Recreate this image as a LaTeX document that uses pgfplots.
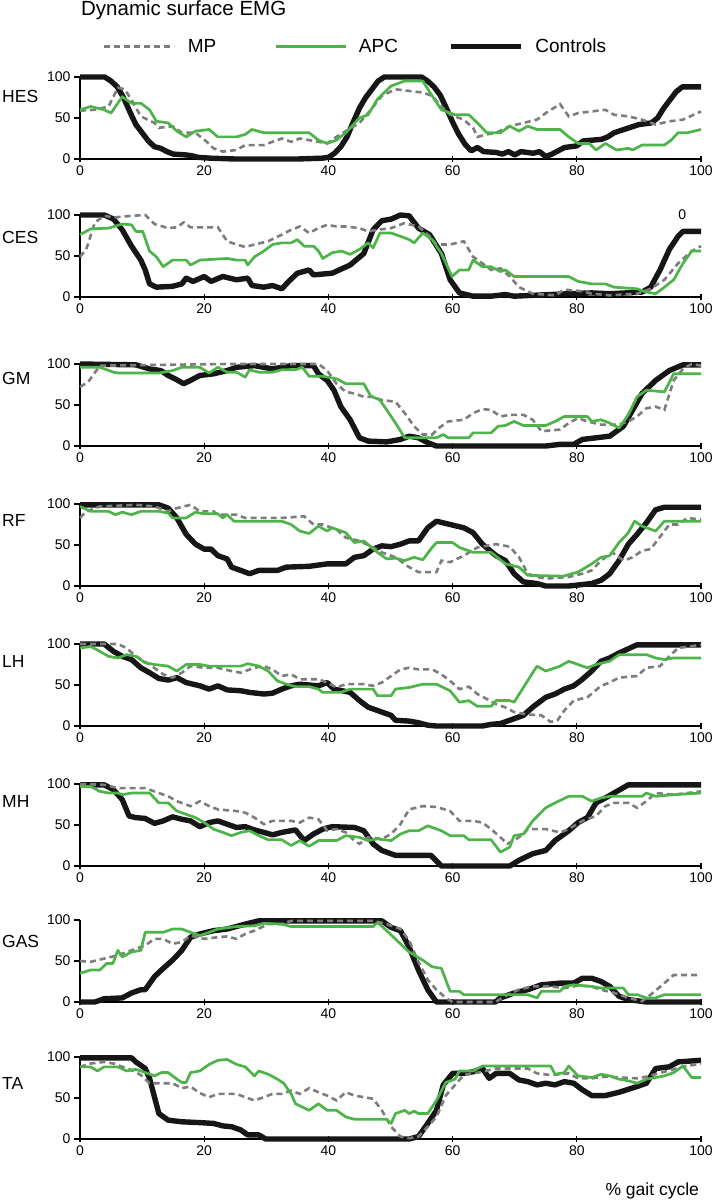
\documentclass[border=0pt]{standalone}
\usepackage{fontspec}
\setmainfont{Liberation Sans}
\usepackage{pgfplots}
\pgfplotsset{compat=1.18}
\definecolor{apcgreen}{RGB}{76,180,72}
\definecolor{mpgray}{RGB}{125,125,125}
\definecolor{ctrlblack}{RGB}{22,22,22}
\tikzset{
 ctrl/.style={draw=ctrlblack, line width=5.4pt, line join=round},
 mp/.style={draw=mpgray, line width=2.6pt, dash pattern=on 6pt off 4pt},
 apc/.style={draw=apcgreen, line width=2.7pt, line join=round},
 mlab/.style={font=\fontsize{17.5}{20}\selectfont, anchor=base west, inner sep=0pt},
}
\pgfplotsset{
 emg/.style={
  scale only axis, width=621pt, height=82pt,
  xmin=0,xmax=100,ymin=0,ymax=100,
  axis lines=left, axis line style={-, line width=1.4pt, black},
  xtick={0,20,...,100}, ytick={0,50,100},
  tick style={line width=1.2pt, black},
  major tick length=6pt,
  xtick align=center, ytick align=outside,
  clip=false,
  tick label style={font=\fontsize{14}{16}\selectfont},
  /pgf/number format/assume math mode=true,
  anchor=south west,
 },
}
\begin{document}
\begin{tikzpicture}
\useasboundingbox (0,0) rectangle (714pt,-1201pt);
% HES
\begin{axis}[emg, at={(80pt,-159pt)},
  legend columns=3,
  legend image code/.code={\draw[#1] (0pt,0pt) -- (70pt,0pt);},
  legend style={at={(axis description cs:0.037,1.37)}, anchor=west, draw=none, fill=none, inner sep=0pt,
    font=\fontsize{19}{22}\selectfont, nodes={inner sep=0pt},
    /tikz/every odd column/.append style={column sep=12pt},
    /tikz/column 2/.append style={column sep=58pt},
    /tikz/column 4/.append style={column sep=50pt}}]
\addlegendimage{mp}\addlegendentry{MP}
\addlegendimage{apc}\addlegendentry{APC}
\addlegendimage{ctrl}\addlegendentry{Controls}
\addplot[ctrl, forget plot] coordinates {(0,100)(4,100)(5,95)(6,88)(7,75)(8,58)(9,42)(10,32)(11,22)(12,15)(13,13)(14,9)(15,6)(17,5)(18,4)(19,2)(21,1)(25,0)(30,0)(35,0)(39,1)(40,2)(41,7)(42,15)(43,27)(44,45)(45,62)(46,75)(47,85)(48,95)(49,100)(55,100)(56,95)(57,88)(58,78)(59,62)(60,45)(61,30)(62,18)(63,10)(64,14)(65,9)(67,8)(68,6)(69,9)(70,5)(71,9)(72,8)(73,7)(74,9)(75,3)(76,6)(77,10)(78,14)(80,16)(81,22)(84,24)(85,27)(86,32)(88,37)(90,42)(92,44)(93,50)(94,62)(95,72)(96,82)(97,88)(100,88)};
\addplot[mp, forget plot] coordinates {(0,59)(2.4,60)(4.6,64)(6.1,87)(7.2,85)(8.3,72)(9.8,52)(12,44)(12.7,38)(14.9,40)(16.4,32)(18.6,32)(20.4,21)(21.5,13)(23,9)(25.2,11)(26.6,17)(29.6,17)(31,21)(32.5,25)(34,21)(35.4,25)(36.9,23)(38.4,21)(39.8,19)(41.3,27)(42.8,34)(45,44)(46.4,56)(48.6,77)(50.8,85)(53,83)(55.2,81)(56.7,77)(58.2,64)(59.6,54)(61.8,48)(63.3,38)(64,27)(65.5,30)(67,32)(69.2,40)(71.4,44)(73.6,48)(75,56)(77.3,67)(78.7,52)(80.2,56)(82.4,58)(84.6,60)(86,54)(88.3,52)(90.5,48)(92.7,42)(94.9,46)(97.1,48)(100,58)};
\addplot[apc, forget plot] coordinates {(0,60)(1.7,64)(3.9,60)(5,56)(6.8,76)(8.3,68)(9.8,68)(11.2,60)(12.3,46)(14.2,44)(15.6,34)(17.1,27)(18.6,34)(20.8,36)(22.2,27)(25.2,27)(26.6,30)(27.7,36)(29.6,32)(36.9,32)(38.4,23)(39.8,19)(41.3,23)(42.8,32)(45,50)(46.4,54)(47.9,73)(50.1,89)(52.2,95)(55.2,95)(56.7,77)(58.2,60)(60.4,54)(62.6,54)(64,44)(65.5,32)(67.7,32)(69.2,40)(70.7,34)(72.1,40)(73.6,36)(77.3,36)(78.7,27)(80.2,19)(82,19)(83.1,11)(84.6,19)(86.4,11)(88.3,13)(89,11)(90.5,17)(94.1,17)(95.2,23)(96.3,32)(97.8,32)(100,36)};
\node[mlab] at (axis description cs:-0.1256,0.69) {HES};
\node[font=\fontsize{20.5}{24}\selectfont, anchor=base west, inner sep=0pt] at (axis description cs:0.0016,1.756) {Dynamic surface EMG};
\end{axis}
% CES
\begin{axis}[emg, at={(80pt,-297pt)}]
\addplot[ctrl] coordinates {(0,100)(3.9,100)(5.4,95)(6.8,82)(8.3,62)(9.8,45)(10.5,33)(11.2,16)(12.3,12)(14.9,13)(16.4,16)(17.1,23)(18.2,19)(20,25)(21.1,19)(23,25)(25.2,21)(27,23)(27.7,14)(29.6,12)(31,14)(32.5,10)(33.6,19)(35,29)(36.9,33)(37.6,27)(40.6,29)(43.5,39)(45.7,53)(47.2,82)(48.6,93)(50.1,95)(51.6,100)(53,99)(54.5,84)(56.3,76)(58.2,53)(59.6,21)(61.1,5)(63.3,1)(66.2,1)(68.5,3)(69.9,1)(78.7,4)(82.4,5)(85.3,4)(90.5,6)(91.9,12)(93.4,33)(94.9,58)(96.3,74)(97.1,80)(100,80)};
\addplot[mp] coordinates {(0,49)(1,58)(2.4,91)(3.9,99)(5.4,97)(8.3,99)(10.5,100)(12,89)(14.2,84)(15.6,85)(16.7,91)(17.8,85)(22.2,85)(23.7,68)(25.2,64)(26.6,61)(28.1,64)(30.3,68)(32.5,76)(34,82)(35.4,86)(36.9,78)(38.4,84)(39.8,88)(41.3,86)(42.8,86)(45,84)(46.4,80)(47.9,82)(50.1,84)(52.2,90)(54.5,86)(56.3,74)(57.4,64)(59.6,64)(61.8,68)(63.3,49)(64.8,41)(66.2,33)(67.7,35)(69.2,25)(70.7,12)(72.9,4)(76.5,2)(78,9)(80.9,7)(82.4,4)(85.3,2)(89.7,4)(91.9,10)(94.1,21)(96.3,41)(98.5,56)(100,62)};
\addplot[apc] coordinates {(0,76)(1.7,83)(4.6,84)(6.8,89)(8.3,88)(9,80)(10.1,80)(11.2,56)(12.3,49)(13.4,37)(14.9,45)(17.1,45)(17.8,39)(19.3,45)(23.7,47)(25.2,45)(26.6,45)(27,39)(28.1,49)(29.6,56)(31,64)(32.5,66)(34,66)(35,70)(36.1,62)(37.6,62)(38.4,56)(39.1,47)(40.6,54)(42.1,56)(43.5,52)(45,58)(46.4,66)(47.2,60)(48.3,78)(50.1,78)(51.6,74)(53,70)(53.8,66)(55.2,78)(56.7,70)(58.2,53)(59.9,25)(61.1,33)(62.6,33)(63.3,45)(64.8,37)(66.2,37)(67.7,31)(68.5,33)(69.9,25)(78.7,25)(80.2,19)(82.4,16)(84.6,16)(86,12)(89.7,10)(91.2,6)(92.7,4)(94.1,12)(95.6,21)(97.1,41)(98.5,56)(100,56)};
\node[mlab] at (axis description cs:-0.1256,0.65) {CES};
\node[font=\fontsize{14}{16}\selectfont] at (axis cs:97,100) {0};
\end{axis}
% GM
\begin{axis}[emg, at={(80pt,-446pt)}]
\addplot[ctrl] coordinates {(0,100)(9,99)(11.2,94)(13,92)(14.2,86)(15.3,82)(16.7,76)(17.8,80)(19.3,86)(21.5,88)(23.7,92)(25.2,96)(28.1,98)(31,94)(34,98)(37.6,98)(38.4,88)(39.8,80)(40.9,68)(42,48)(43.5,32)(45,10)(46.4,6)(49.4,5)(51.6,8)(53,12)(54.5,10)(56,4)(57.4,0)(75,0)(77.3,2)(79.5,2)(80.9,8)(83.1,10)(85.3,12)(87.5,24)(89,44)(90.5,64)(92.7,80)(94.9,92)(97.1,99)(100,99)};
\addplot[mp] coordinates {(0,72)(1.3,78)(3.2,98)(23.7,100)(38.4,100)(39.8,92)(41.3,76)(42.8,66)(44.2,64)(45.7,60)(47.2,60)(48.6,56)(50.8,54)(52.3,40)(53.8,24)(55.2,14)(56.7,14)(57.8,22)(59.3,30)(61.8,32)(63.3,40)(64.8,45)(66.2,44)(67.7,36)(69.2,38)(71.4,38)(72.9,32)(74.3,18)(77.3,20)(78.7,28)(80.2,34)(81.7,30)(83.9,26)(86.8,26)(88.3,30)(89.7,36)(91.2,46)(92.7,48)(94.1,44)(95.6,80)(97.1,94)(98.5,100)(100,98)};
\addplot[apc] coordinates {(0,96)(3.2,96)(5.4,90)(6.1,89)(12.7,89)(14.9,92)(16.4,96)(19.3,96)(20.8,89)(22.2,96)(23.7,90)(25.2,90)(26.6,84)(27.3,93)(28.8,90)(31,90)(32.5,93)(34.7,93)(35.8,96)(36.9,85)(39.1,85)(41.3,82)(42.8,76)(45.7,76)(46.8,61)(48.3,56)(49.4,44)(50.8,28)(52.3,10)(57.4,10)(58.5,14)(59.3,10)(62.6,10)(63.3,16)(66.2,16)(67.3,24)(68.5,25)(69.9,30)(71.4,25)(75,25)(76.5,30)(78,36)(81.7,36)(82.4,30)(83.9,32)(85.3,28)(86.8,22)(88.3,38)(89.7,60)(91.2,68)(94.1,66)(95.6,88)(100,88)};
\node[mlab] at (axis description cs:-0.1256,0.75) {GM};
\end{axis}
% RF
\begin{axis}[emg, at={(80pt,-586pt)}]
\addplot[ctrl] coordinates {(0,99)(12.7,99)(14.2,95)(15.6,83)(17.1,63)(18.6,51)(20,45)(21.1,45)(22.2,37)(23.7,33)(24.4,23)(25.9,19)(27.3,15)(28.8,19)(31.8,19)(33.2,23)(36.9,24)(39.8,27)(42.8,27)(44.2,35)(45.7,37)(47.2,45)(48.6,49)(50.1,48)(51.6,51)(53,55)(54.5,55)(56,71)(57.4,79)(59.6,75)(61.8,71)(63.3,65)(64.8,51)(67,37)(68.5,31)(69.9,15)(71.4,5)(73.6,3)(75,0)(78.7,0)(82.4,3)(83.9,7)(85.3,15)(86.8,31)(88.3,51)(89.7,63)(91.2,77)(92.7,93)(94.1,96)(100,96)};
\addplot[mp] coordinates {(0,83)(1,91)(3.2,97)(9,99)(12,97)(14.2,91)(15.6,95)(17.8,99)(19.3,91)(21.5,91)(22.2,87)(25.2,87)(26.6,83)(32.5,83)(36.1,85)(37.6,75)(39.1,75)(41.3,69)(42.8,59)(45,55)(47.2,47)(48.6,41)(50.8,35)(53,23)(54.5,17)(57.4,17)(58.2,31)(59.6,29)(61.8,37)(64,47)(67,51)(69.2,48)(70.7,35)(72.1,15)(73.6,11)(75,9)(78.7,11)(80.9,15)(82.4,19)(83.9,31)(85.7,41)(87.5,31)(89,35)(90.5,43)(91.9,45)(94.1,67)(94.9,75)(96.3,75)(97.8,83)(100,81)};
\addplot[apc] coordinates {(0,97)(1.7,91)(4.6,91)(5.7,87)(6.8,90)(8.3,87)(9.8,91)(12.7,91)(14.2,89)(14.9,83)(17.1,83)(18.6,90)(20,88)(22.2,88)(23,83)(23.7,87)(24.8,79)(32.5,79)(34,75)(35.4,67)(36.9,64)(38.4,73)(39.8,67)(40.6,71)(42.8,65)(44.2,53)(45.7,55)(47.9,41)(49.4,33)(50.8,34)(52.3,31)(53.8,35)(55.2,32)(56.7,47)(57.4,53)(60,53)(61.1,47)(63.3,41)(66.2,41)(68.5,27)(70.7,23)(72.1,13)(77.8,12)(80.2,17)(82.4,27)(83.9,35)(85.3,37)(86.8,53)(88.3,65)(89.3,79)(90.5,73)(92.7,67)(94.1,79)(100,79)};
\node[mlab] at (axis description cs:-0.1256,0.73) {RF};
\end{axis}
% LH
\begin{axis}[emg, at={(80pt,-726pt)}]
\addplot[ctrl] coordinates {(0,100)(3.9,100)(5.4,91)(6.8,85)(8.3,81)(9.8,71)(11.2,65)(12.7,58)(14.2,56)(15.6,59)(17.1,53)(19.3,49)(20.8,45)(22.2,49)(23.7,44)(25.9,43)(27.3,41)(29.6,39)(31,40)(32.5,45)(34,49)(35.4,51)(38.4,49)(39.8,53)(40.9,45)(43.5,41)(45,31)(46.4,23)(48.6,17)(50.1,13)(50.8,7)(53,6)(54.5,4)(56,1)(57.4,0)(64.8,0)(66.2,2)(67.7,3)(69.2,7)(71.4,13)(72.9,23)(75,35)(76.5,39)(78,45)(79.5,49)(80.9,57)(82.4,67)(83.9,79)(85.3,83)(86.8,89)(89.7,99)(100,99)};
\addplot[mp] coordinates {(0,100)(6.1,100)(7.5,95)(9,85)(11.2,75)(13.4,63)(14.9,59)(16.4,65)(17.8,73)(20,71)(22.2,71)(24.4,67)(25.9,65)(28.1,71)(29.6,73)(31,69)(32.5,61)(34,63)(35.4,57)(38.4,57)(39.8,53)(41.3,47)(42.8,51)(45.7,51)(47.2,49)(48.6,53)(50.1,61)(51.6,69)(53,71)(54.5,69)(56.7,69)(58.2,63)(59.6,55)(61.1,45)(62.6,48)(64,39)(65.5,33)(66.9,27)(68.4,23)(69.9,17)(72.1,14)(74.3,13)(75.8,5)(76.9,7)(78,19)(79.5,31)(81.7,35)(83.9,49)(85.3,53)(86.8,59)(89.7,61)(91.2,71)(93.4,73)(94.9,85)(96.3,95)(100,99)};
\addplot[apc] coordinates {(0,95)(1.7,97)(3.2,91)(4.6,85)(6.1,83)(7.5,87)(9,85)(10.5,77)(12,75)(14.2,73)(15.6,67)(17.1,75)(19.3,75)(20.8,73)(25.9,73)(27,76)(28.8,73)(30.3,67)(31.8,55)(33.2,51)(34.7,48)(36.9,48)(38.4,45)(39.1,41)(42,41)(43.5,45)(47.2,45)(47.9,37)(50.1,37)(50.8,45)(53,47)(55.2,51)(57.4,51)(59.6,43)(61.1,29)(62.6,31)(64,24)(66.2,24)(67,31)(69.2,31)(69.9,29)(71.4,47)(72.9,65)(73.6,73)(75,67)(77.3,73)(78.7,79)(80.2,75)(81.7,71)(83.1,75)(85.3,79)(86.8,87)(91.2,87)(92.7,83)(94.1,81)(95.6,83)(100,83)};
\node[mlab] at (axis description cs:-0.1256,0.71) {LH};
\end{axis}
% MH
\begin{axis}[emg, at={(80pt,-866pt)}]
\addplot[ctrl] coordinates {(0,99)(3.9,99)(5.4,93)(6.8,81)(7.9,61)(9,59)(10.5,58)(12,52)(13.4,55)(14.9,60)(16.4,57)(17.8,55)(19.3,48)(20.8,53)(22.2,55)(23.7,51)(25.2,47)(26.6,48)(28.1,44)(29.6,41)(31,38)(32.5,41)(34.7,44)(36.1,31)(37.6,39)(39.1,45)(40.6,48)(44.2,47)(45.7,43)(47.2,27)(48.6,19)(50.8,13)(56.5,13)(58.2,0)(69.2,0)(70.7,7)(72.9,15)(75,19)(76.5,31)(78.7,43)(80.2,53)(81.7,59)(83.1,77)(84.6,83)(86,89)(88.3,99)(100,99)};
\addplot[mp] coordinates {(0,100)(3.9,99)(6.1,95)(10.5,95)(12.7,89)(14.2,85)(15.6,79)(17.8,73)(19.3,79)(20.8,73)(22.2,69)(25.2,67)(26.6,65)(28.1,59)(29.6,51)(31,55)(34,55)(35.4,53)(36.9,59)(38.4,57)(39.8,43)(41.3,45)(42.8,41)(44.2,31)(45,27)(46.4,35)(48.6,33)(50.1,39)(51.6,51)(53,69)(55.2,73)(57.4,72)(59.6,67)(61.1,55)(63.3,55)(64.8,53)(66.2,45)(67.7,35)(68.8,27)(69.9,31)(71.4,39)(72.1,45)(75,45)(77.3,41)(78.7,45)(80.9,55)(83.1,61)(84.6,73)(86,77)(88.3,77)(89.7,71)(91.2,79)(92.7,89)(95.6,87)(100,91)};
\addplot[apc] coordinates {(0,97)(1.7,97)(3.2,91)(4.6,89)(6.1,89)(6.8,87)(8.3,89)(11.2,89)(12.7,77)(14.2,77)(15.6,67)(17.1,63)(18.6,59)(20,53)(21.5,45)(23,41)(24.4,37)(25.9,41)(27.3,43)(28.8,37)(30.3,32)(32.5,32)(34,25)(35.4,31)(36.9,24)(38.4,31)(41.3,31)(42.8,37)(45,35)(46.4,31)(47.9,33)(50.1,31)(51.6,39)(53,43)(54.5,43)(56,49)(58.2,43)(59.6,37)(61.8,37)(62.6,32)(66.2,32)(66.9,25)(67.7,17)(69.2,23)(69.9,37)(71.4,39)(72.9,55)(75,71)(76.5,77)(78.7,85)(80.9,85)(82.4,79)(83.9,83)(85.3,85)(90.5,85)(91.2,89)(92.7,85)(95.6,87)(100,89)};
\node[mlab] at (axis description cs:-0.1256,0.71) {MH};
\end{axis}
% GAS
\begin{axis}[emg, at={(80pt,-1002pt)}]
\addplot[ctrl] coordinates {(0,0)(2.4,0)(3.9,4)(6.8,5)(8.3,11)(9.8,15)(10.5,15)(12,31)(13.4,41)(14.9,51)(16.4,63)(17.8,79)(19.3,83)(21.5,87)(23.7,89)(26.6,95)(28.8,99)(48.6,99)(50.1,91)(51.6,87)(53,67)(54.5,39)(56,15)(57.4,0)(66.9,0)(67.7,5)(69.9,11)(72.1,15)(74.3,21)(77.3,23)(79.5,23)(80.9,29)(82.4,29)(83.9,25)(85.3,19)(86.8,7)(88.3,3)(91.2,0)(100,0)};
\addplot[mp] coordinates {(0,50)(1.7,49)(3.9,53)(6.1,57)(8.3,63)(10.5,69)(12,77)(13.4,77)(14.9,71)(16.4,73)(17.8,81)(20,77)(22.2,79)(23.7,80)(25.2,77)(26.6,83)(28.1,87)(30.3,95)(32.5,95)(34,99)(47.2,99)(49.4,95)(51.6,89)(53,75)(54.5,49)(56,27)(57.4,15)(58.9,5)(60,0)(66.9,0)(68.4,7)(70.6,15)(72.8,19)(75.7,19)(78,17)(80.2,20)(82.4,19)(83.9,15)(86.1,11)(88.3,5)(90.5,1)(91.9,9)(94.1,23)(95.6,33)(100,33)};
\addplot[apc] coordinates {(0,35)(1.7,39)(3.2,39)(4.3,47)(5.3,47)(6.1,63)(6.8,55)(8.3,61)(9.8,63)(10.5,85)(13.4,85)(14.9,89)(16.4,89)(17.8,85)(19.3,81)(20.8,85)(22.2,89)(25.2,92)(28.1,93)(29.6,96)(32.5,95)(34,92)(47.2,92)(47.9,97)(49.4,87)(51.6,71)(53,61)(55.2,51)(56.7,43)(58.2,41)(58.9,27)(59.6,13)(61.1,13)(61.8,9)(72.1,9)(73.6,5)(74.3,13)(77.3,13)(78,19)(79.5,21)(82.4,19)(83.9,17)(87.5,17)(88.3,9)(89.7,9)(91.2,5)(92.7,5)(94.1,9)(100,9)};
\node[mlab] at (axis description cs:-0.1256,0.66) {GAS};
\end{axis}
% TA
\begin{axis}[emg, at={(80pt,-1139pt)}]
\addplot[ctrl] coordinates {(0,99)(8.3,99)(9,94)(10.5,86)(11.2,74)(12,51)(12.7,31)(14.2,23)(16.4,21)(19.3,20)(21.5,19)(23,16)(24.4,15)(25.9,11)(27,5)(28.8,5)(29.9,0)(53,0)(54.5,3)(56,19)(57.4,35)(58.5,66)(60,80)(61.8,80)(63.3,82)(64.8,86)(65.9,74)(67,80)(69.2,80)(70.7,72)(72.1,70)(73.6,66)(75,68)(76.5,66)(78,70)(79.5,68)(80.9,60)(82.4,53)(84.6,53)(86.8,57)(89.7,64)(91.2,68)(92.7,86)(94.9,88)(96.3,94)(100,96)};
\addplot[mp] coordinates {(0,88)(1.7,92)(3.9,94)(5.4,92)(8.3,84)(9.8,78)(11.2,68)(14.9,68)(16.4,62)(17.8,64)(19.3,56)(20.8,51)(22.2,55)(25.2,55)(26.6,51)(28.1,47)(29.6,51)(31,55)(32.5,55)(34,59)(35.4,55)(36.9,62)(38.4,57)(39.8,53)(41.3,47)(42.8,57)(44.2,53)(45.7,51)(47.2,49)(48.6,35)(50.1,15)(51.6,3)(53,1)(54.5,3)(56,15)(57.4,27)(58.9,53)(60.4,66)(61.8,78)(64.8,82)(67,86)(72.1,86)(73.6,80)(75.8,78)(78.7,80)(80.2,74)(82.4,74)(84.6,76)(89.7,74)(91.2,76)(94.1,82)(97.1,88)(100,92)};
\addplot[apc] coordinates {(0,88)(1.7,88)(2.8,83)(3.9,88)(6.1,88)(7.5,83)(9,85)(10.5,81)(12,77)(13.1,81)(14.2,81)(15.6,73)(16.4,69)(17.1,69)(17.8,81)(19.3,83)(20.8,91)(22.2,96)(23.7,97)(25.2,91)(26.6,88)(28.1,77)(28.8,83)(30.3,79)(31.8,73)(32.8,68)(34,55)(34.7,43)(36.9,35)(38.4,43)(39.8,35)(41.3,35)(42.8,27)(44.2,24)(49.4,24)(50.1,19)(50.8,31)(52.3,35)(53,31)(53.8,34)(54.5,31)(56,31)(57.4,47)(58.9,69)(60.4,73)(61.1,83)(63.3,83)(64.8,89)(75.8,89)(76.5,79)(78,81)(78.7,89)(80.2,77)(82.4,75)(83.9,79)(85.3,77)(86.8,73)(88.3,71)(89.7,68)(91.2,73)(92.7,75)(94.1,77)(95.6,81)(97.1,89)(98.5,75)(100,75)};
\node[mlab] at (axis description cs:-0.1256,0.60) {TA};
\node[font=\fontsize{17.5}{20}\selectfont, anchor=base east, inner sep=0pt] at (axis description cs:0.997,-0.683) {\% gait cycle};
\end{axis}
\end{tikzpicture}
\end{document}
